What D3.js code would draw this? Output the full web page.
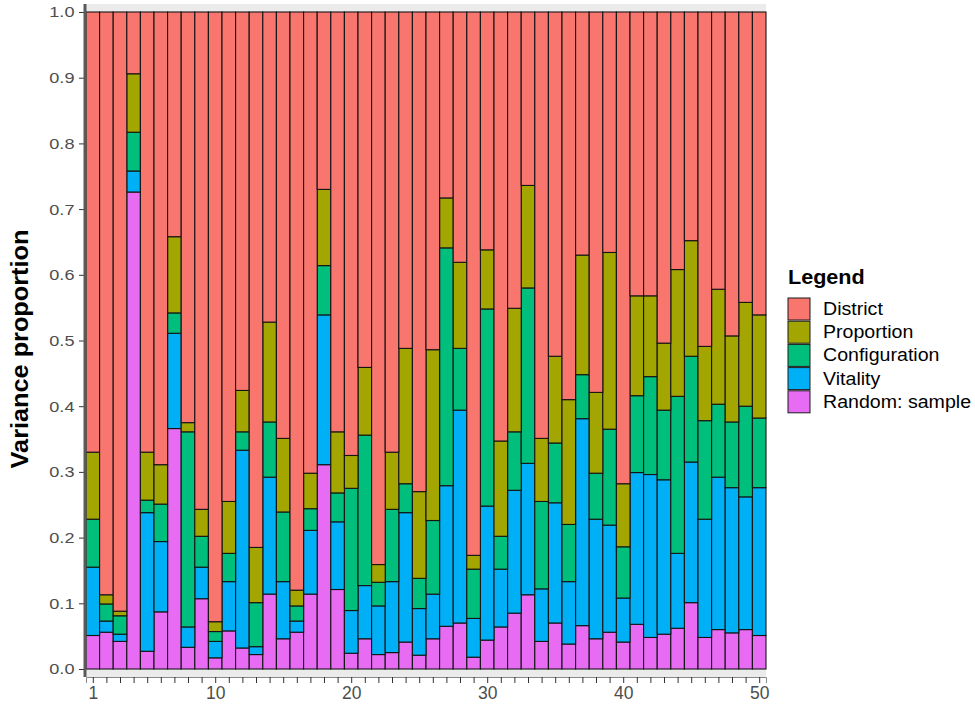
<!DOCTYPE html>
<html>
  <head>
    <meta charset="UTF-8">
    <title>Variance proportion</title>
    <script src="https://d3js.org/d3.v7.min.js"></script>
    <style>
      body { margin: 0; background: #fff; }
      text { font-family: "Liberation Sans", Arial, sans-serif; }
    </style>
  </head>
  <body>
    <svg id="chart" width="975" height="707"></svg>
    <script>
      // bar ids 1..50
      const ids = d3.range(1, 51);

      // variance components per bar (bottom to top)
      const random = [.051,.056,.042,.726,.027,.087,.366,.033,.107,.017,
                      .058,.032,.022,.114,.046,.056,.114,.311,.121,.024,
                      .046,.022,.025,.041,.021,.046,.065,.070,.018,.044,
                      .064,.085,.113,.042,.070,.038,.066,.046,.056,.041,
                      .068,.048,.053,.062,.101,.048,.060,.055,.060,.051];
      const vitality = [.104,.017,.011,.032,.211,.107,.145,.031,.048,.025,
                        .075,.301,.012,.178,.087,.017,.097,.228,.103,.065,
                        .081,.074,.108,.197,.071,.068,.214,.324,.059,.204,
                        .088,.187,.200,.080,.183,.095,.315,.182,.163,.067,
                        .231,.248,.235,.114,.214,.180,.232,.221,.202,.225];
      const configuration = [.073,.026,.028,.059,.019,.057,.031,.297,.047,.015,
                             .043,.028,.067,.084,.106,.023,.033,.075,.044,.186,
                             .229,.036,.110,.044,.046,.112,.362,.094,.075,.300,
                             .050,.089,.267,.133,.091,.087,.067,.070,.146,.078,
                             .117,.149,.106,.239,.161,.150,.111,.100,.138,.106];
      const proportion = [.102,.014,.007,.089,.073,.060,.116,.014,.041,.015,
                          .079,.063,.084,.152,.112,.024,.054,.116,.093,.050,
                          .103,.027,.087,.206,.132,.260,.076,.131,.021,.090,
                          .145,.188,.156,.096,.132,.190,.182,.123,.269,.096,
                          .152,.123,.102,.193,.176,.113,.175,.131,.158,.157];
      const district = [.670,.887,.912,.094,.670,.689,.342,.625,.757,.928,
                        .745,.576,.815,.472,.649,.880,.702,.270,.639,.675,
                        .541,.841,.670,.512,.730,.514,.283,.381,.827,.362,
                        .653,.451,.264,.649,.524,.590,.370,.579,.366,.718,
                        .432,.432,.504,.392,.348,.509,.422,.493,.442,.461];

      const keys = ["Random: sample", "Vitality", "Configuration", "Proportion", "District"];
      const colors = ["#E76BF3", "#00B0F6", "#00BF7D", "#A3A500", "#F8766D"];
      const series = [random, vitality, configuration, proportion, district];
      const xTicks = [1, 10, 20, 30, 40, 50];
      const yTicks = [0, 0.1, 0.2, 0.3, 0.4, 0.5, 0.6, 0.7, 0.8, 0.9, 1.0];

      const rows = ids.map((id, i) => {
        const r = { id };
        keys.forEach((k, j) => r[k] = series[j][i]);
        return r;
      });

      const svg = d3.select("#chart");
      const plotLeft = 86, plotRight = 766, plotTop = 12, plotBottom = 669;

      const x = d3.scaleLinear().domain([0.5, 50.5]).range([plotLeft, plotRight]);
      const y = d3.scaleLinear().domain([0, 1]).range([plotBottom, plotTop]);
      const color = d3.scaleOrdinal().domain(keys).range(colors);

      // panel background (only shows in the expansion strips)
      svg.append("rect")
        .attr("x", plotLeft).attr("y", 4)
        .attr("width", plotRight - plotLeft).attr("height", 677 - 4)
        .attr("fill", "#ebebeb");

      const stacked = d3.stack().keys(keys)(rows);

      svg.append("g")
        .selectAll("g")
        .data(stacked)
        .join("g")
        .attr("fill", d => color(d.key))
        .selectAll("rect")
        .data(d => d)
        .join("rect")
        .attr("x", d => x(d.data.id - 0.5))
        .attr("width", x(1.5) - x(0.5))
        .attr("y", d => y(d[1]))
        .attr("height", d => y(d[0]) - y(d[1]))
        .attr("stroke", "#141414")
        .attr("stroke-width", 1.1);

      // y axis
      const yAxis = svg.append("g")
        .attr("transform", `translate(${plotLeft - 1},0)`)
        .call(d3.axisLeft(y).tickValues(yTicks).tickFormat(d3.format(".1f")).tickSize(6).tickPadding(3));
      yAxis.select(".domain").remove();
      yAxis.selectAll(".tick line").attr("stroke", "#333");
      yAxis.selectAll(".tick text")
        .attr("fill", "#4d4d4d")
        .style("font-size", "15.5px")
        .attr("transform", "scale(1.17,1)");
      svg.append("line")
        .attr("x1", plotLeft - 1).attr("x2", plotLeft - 1)
        .attr("y1", 4).attr("y2", 677)
        .attr("stroke", "#5a5a5a").attr("stroke-width", 3);

      // x axis: a tick at each bar, labels at 1,10..50
      const xAxis = svg.append("g")
        .attr("transform", `translate(0,677)`)
        .call(d3.axisBottom(x).tickValues(ids).tickSize(6).tickPadding(4)
          .tickFormat(d => xTicks.includes(d) ? d : ""));
      xAxis.select(".domain").attr("stroke", "#888").attr("stroke-width", 1);
      xAxis.selectAll(".tick line").attr("stroke", "#333");
      xAxis.selectAll(".tick text").attr("fill", "#4d4d4d").style("font-size", "17.5px");

      // y axis title
      svg.append("text")
        .attr("transform", `translate(28,349) rotate(-90) scale(1.1,1)`)
        .attr("text-anchor", "middle")
        .style("font-size", "23px")
        .style("font-weight", "bold")
        .attr("fill", "#000")
        .text("Variance proportion");

      // legend
      const legend = svg.append("g").attr("transform", "translate(788,284)");
      legend.append("text")
        .attr("x", 0).attr("y", 0)
        .attr("transform", "scale(1.08,1)")
        .style("font-size", "20px").style("font-weight", "bold")
        .text("Legend");
      const items = keys.slice().reverse();
      const entry = legend.selectAll("g.item")
        .data(items)
        .join("g")
        .attr("class", "item")
        .attr("transform", (d, i) => `translate(0,${14 + i * 23.2})`);
      entry.append("rect")
        .attr("width", 22).attr("height", 22)
        .attr("fill", d => color(d))
        .attr("stroke", "#1a1a1a").attr("stroke-width", 1);
      entry.append("text")
        .attr("transform", "translate(35,17) scale(1.12,1)")
        .style("font-size", "17.5px")
        .attr("fill", "#000")
        .text(d => d);
    </script>
  </body>
</html>
